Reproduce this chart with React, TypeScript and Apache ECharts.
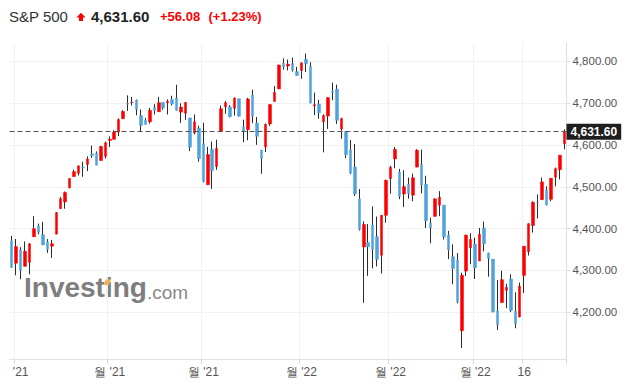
import React, { useEffect, useRef } from "react";
import * as echarts from "echarts";

// S&P 500 daily candles, 2021-09-30 .. 2022-03-29
const dates = [
  "2021-09-30",
  "2021-10-01", "2021-10-04", "2021-10-05", "2021-10-06", "2021-10-07", "2021-10-08", "2021-10-11", "2021-10-12", "2021-10-13", "2021-10-14", "2021-10-15", "2021-10-18", "2021-10-19", "2021-10-20", "2021-10-21", "2021-10-22", "2021-10-25", "2021-10-26", "2021-10-27", "2021-10-28", "2021-10-29",
  "2021-11-01", "2021-11-02", "2021-11-03", "2021-11-04", "2021-11-05", "2021-11-08", "2021-11-09", "2021-11-10", "2021-11-11", "2021-11-12", "2021-11-15", "2021-11-16", "2021-11-17", "2021-11-18", "2021-11-19", "2021-11-22", "2021-11-23", "2021-11-24", "2021-11-26", "2021-11-29", "2021-11-30",
  "2021-12-01", "2021-12-02", "2021-12-03", "2021-12-06", "2021-12-07", "2021-12-08", "2021-12-09", "2021-12-10", "2021-12-13", "2021-12-14", "2021-12-15", "2021-12-16", "2021-12-17", "2021-12-20", "2021-12-21", "2021-12-22", "2021-12-23", "2021-12-27", "2021-12-28", "2021-12-29", "2021-12-30", "2021-12-31",
  "2022-01-03", "2022-01-04", "2022-01-05", "2022-01-06", "2022-01-07", "2022-01-10", "2022-01-11", "2022-01-12", "2022-01-13", "2022-01-14", "2022-01-18", "2022-01-19", "2022-01-20", "2022-01-21", "2022-01-24", "2022-01-25", "2022-01-26", "2022-01-27", "2022-01-28", "2022-01-31",
  "2022-02-01", "2022-02-02", "2022-02-03", "2022-02-04", "2022-02-07", "2022-02-08", "2022-02-09", "2022-02-10", "2022-02-11", "2022-02-14", "2022-02-15", "2022-02-16", "2022-02-17", "2022-02-18", "2022-02-22", "2022-02-23", "2022-02-24", "2022-02-25", "2022-02-28",
  "2022-03-01", "2022-03-02", "2022-03-03", "2022-03-04", "2022-03-07", "2022-03-08", "2022-03-09", "2022-03-10", "2022-03-11", "2022-03-14", "2022-03-15", "2022-03-16", "2022-03-17", "2022-03-18", "2022-03-21", "2022-03-22", "2022-03-23", "2022-03-24", "2022-03-25", "2022-03-28", "2022-03-29",
];

const opens = [
  4370.67,
  4317.16, 4348.84, 4309.87, 4319.57, 4380.44, 4406.51, 4385.44, 4368.31, 4358.01, 4386.75, 4447.69, 4463.72, 4497.34, 4524.42, 4532.24, 4546.12, 4553.69, 4578.69, 4580.22, 4562.84, 4572.87,
  4610.62, 4613.34, 4630.65, 4662.93, 4699.26, 4701.48, 4707.25, 4670.26, 4659.39, 4655.24, 4689.3, 4679.42, 4701.5, 4700.72, 4708.44, 4712.0, 4678.48, 4675.78, 4664.63, 4628.75, 4640.25,
  4602.82, 4504.73, 4589.49, 4548.37, 4631.97, 4690.86, 4691.0, 4687.64, 4710.3, 4642.99, 4636.46, 4719.13, 4652.5, 4587.9, 4594.96, 4650.36, 4703.96, 4733.99, 4795.49, 4788.64, 4794.23, 4775.21,
  4778.14, 4804.51, 4787.99, 4693.39, 4697.66, 4655.34, 4669.14, 4728.59, 4733.56, 4637.99, 4632.24, 4588.03, 4547.35, 4471.38, 4356.32, 4366.64, 4408.43, 4380.58, 4336.19, 4431.79,
  4519.57, 4566.39, 4535.41, 4482.79, 4505.75, 4480.02, 4547.0, 4553.24, 4506.27, 4412.61, 4429.28, 4455.75, 4456.06, 4384.57, 4332.74, 4324.93, 4155.77, 4298.38, 4354.17,
  4363.14, 4322.56, 4401.31, 4342.12, 4327.01, 4202.66, 4223.1, 4252.55, 4279.5, 4202.75, 4188.82, 4288.14, 4345.11, 4407.34, 4462.4, 4469.1, 4493.1, 4469.98, 4522.91, 4541.09, 4602.86,
];

const closes = [
  4307.54,
  4357.04, 4300.46, 4345.72, 4363.55, 4399.76, 4391.34, 4361.19, 4350.65, 4363.8, 4438.26, 4471.37, 4486.46, 4519.63, 4536.19, 4549.78, 4544.9, 4566.48, 4574.79, 4551.68, 4596.42, 4605.38,
  4613.67, 4630.65, 4660.57, 4680.06, 4697.53, 4701.7, 4685.25, 4646.71, 4649.27, 4682.85, 4682.8, 4700.9, 4688.67, 4704.54, 4697.96, 4682.94, 4690.7, 4701.46, 4594.62, 4655.27, 4567.0,
  4513.04, 4577.1, 4538.43, 4591.67, 4686.75, 4701.21, 4667.45, 4712.02, 4668.97, 4634.09, 4709.85, 4668.67, 4620.64, 4568.02, 4649.23, 4696.56, 4725.79, 4791.19, 4786.35, 4793.06, 4778.73, 4766.18,
  4796.56, 4793.54, 4700.58, 4696.05, 4677.03, 4670.29, 4713.07, 4726.35, 4659.03, 4662.85, 4577.11, 4532.76, 4482.73, 4397.94, 4410.13, 4356.45, 4349.93, 4326.51, 4431.85, 4515.55,
  4546.54, 4589.38, 4477.44, 4500.53, 4483.87, 4521.54, 4587.18, 4504.08, 4418.64, 4401.67, 4471.07, 4475.01, 4380.26, 4348.87, 4304.76, 4225.5, 4288.7, 4384.65, 4373.94,
  4306.26, 4386.54, 4363.49, 4328.87, 4201.09, 4170.7, 4277.88, 4259.52, 4204.31, 4173.11, 4262.45, 4357.86, 4411.67, 4463.12, 4461.18, 4511.61, 4456.24, 4520.16, 4543.06, 4575.52, 4631.6,
];

const lows = [
  4306.24,
  4288.52, 4278.94, 4309.87, 4290.49, 4380.44, 4386.22, 4360.59, 4342.09, 4329.92, 4386.75, 4447.69, 4447.47, 4496.41, 4524.4, 4526.89, 4524.0, 4537.36, 4569.17, 4551.66, 4562.84, 4567.59,
  4595.06, 4613.34, 4621.19, 4662.59, 4681.32, 4694.39, 4670.87, 4630.86, 4648.31, 4650.77, 4672.86, 4679.42, 4684.41, 4672.78, 4694.22, 4682.17, 4652.66, 4659.89, 4585.43, 4625.26, 4560.0,
  4510.27, 4504.73, 4495.12, 4540.51, 4631.97, 4674.52, 4665.98, 4670.24, 4667.6, 4606.52, 4611.22, 4651.89, 4600.22, 4531.1, 4583.16, 4645.53, 4703.96, 4733.99, 4780.04, 4778.08, 4775.33, 4765.75,
  4758.17, 4774.27, 4699.44, 4671.26, 4662.74, 4582.24, 4638.27, 4706.71, 4650.29, 4614.75, 4568.7, 4530.2, 4477.95, 4395.34, 4222.62, 4287.11, 4304.8, 4309.5, 4292.46, 4414.02,
  4483.53, 4544.32, 4470.39, 4451.5, 4471.47, 4465.4, 4547.0, 4484.31, 4401.41, 4364.84, 4429.28, 4429.68, 4373.81, 4327.22, 4267.11, 4221.51, 4114.65, 4286.83, 4315.12,
  4279.54, 4322.56, 4345.56, 4284.98, 4199.85, 4157.87, 4223.1, 4209.8, 4200.49, 4161.72, 4187.9, 4246.24, 4335.65, 4390.57, 4424.3, 4469.1, 4455.81, 4465.17, 4501.07, 4517.69, 4589.66,
];

const highs = [
  4382.55,
  4375.19, 4355.51, 4369.23, 4365.57, 4429.97, 4412.02, 4415.88, 4374.89, 4372.87, 4439.73, 4475.82, 4488.75, 4520.4, 4540.87, 4551.44, 4559.67, 4572.62, 4598.53, 4584.57, 4597.55, 4608.08,
  4620.34, 4635.15, 4663.46, 4683.0, 4718.5, 4714.92, 4708.53, 4684.85, 4664.55, 4688.47, 4697.42, 4714.95, 4701.5, 4708.8, 4717.75, 4743.83, 4699.39, 4702.87, 4664.63, 4672.95, 4646.02,
  4652.94, 4595.46, 4608.03, 4612.6, 4694.04, 4705.06, 4695.26, 4713.57, 4710.3, 4660.47, 4712.6, 4731.99, 4666.7, 4587.9, 4651.14, 4697.67, 4740.74, 4791.49, 4807.02, 4804.06, 4808.93, 4786.83,
  4796.64, 4818.62, 4797.7, 4725.01, 4707.95, 4673.02, 4714.13, 4748.83, 4744.13, 4665.13, 4632.24, 4611.55, 4602.11, 4494.52, 4417.35, 4411.01, 4453.23, 4428.74, 4432.72, 4516.89,
  4550.49, 4595.31, 4542.88, 4539.66, 4521.86, 4531.32, 4590.03, 4588.92, 4526.33, 4426.22, 4472.77, 4489.55, 4456.06, 4394.6, 4362.12, 4341.51, 4294.73, 4385.34, 4388.84,
  4378.45, 4401.48, 4416.78, 4342.12, 4327.01, 4276.94, 4299.4, 4268.28, 4291.01, 4247.57, 4271.05, 4357.86, 4412.67, 4465.4, 4481.75, 4522.0, 4501.07, 4520.58, 4546.03, 4575.65, 4637.3,
];

const xTickDates = ["2021-10-01", "2021-11-01", "2021-12-01", "2022-01-03", "2022-02-01", "2022-03-01", "2022-03-16"];
const xTickLabels = ["'21", "월 '21", "월 '21", "월 '22", "월 '22", "월 '22", "16"];
const yTicks = [4200, 4300, 4400, 4500, 4600, 4700, 4800];
const title = "S&P 500";
const watermark = ["Investing", ".com"];

const FONT = "'Liberation Sans', Arial, Helvetica, sans-serif";
const RED = "#fb0000";
const BLUE = "#4fa2dc";
const WICK = "#2b2b2b";

const fmt = (v: number) =>
  v.toLocaleString("en-US", { minimumFractionDigits: 2, maximumFractionDigits: 2 });

export default function App() {
  const ref = useRef<HTMLDivElement>(null);

  useEffect(() => {
    if (!ref.current) return;
    const chart = echarts.init(ref.current, null, { renderer: "svg" });

    const n = closes.length;
    const last = closes[n - 1];
    const prev = closes[n - 2];
    const chg = last - prev;
    const pct = (chg / prev) * 100;

    const wickData = dates.map((_, i) => [opens[i], closes[i], lows[i], highs[i]]);
    const bodyData = dates.map((_, i) => [
      opens[i],
      closes[i],
      Math.min(opens[i], closes[i]),
      Math.max(opens[i], closes[i]),
    ]);

    const labelMap = new Map<number, string>();
    xTickDates.forEach((d, k) => labelMap.set(dates.indexOf(d), xTickLabels[k]));
    const firstIdx = dates.indexOf(xTickDates[0]);
    const isTick = (i: number) => labelMap.has(i);

    chart.setOption({
      animation: false,
      backgroundColor: "#ffffff",
      grid: { left: 9.5, right: 64.5, top: 43, bottom: 26 },
      xAxis: {
        type: "category",
        data: dates,
        boundaryGap: true,
        axisLine: { show: true, lineStyle: { color: "#e2e2e2", width: 1 } },
        axisTick: {
          show: true,
          interval: (i: number) => isTick(i),
          length: 5,
          lineStyle: { color: "#d9d9d9" },
        },
        axisLabel: {
          interval: (i: number) => isTick(i),
          formatter: (_v: string, i: number) =>
            i === firstIdx ? `{first|${labelMap.get(i)}}` : labelMap.get(i) ?? "",
          color: "#555555",
          fontSize: 12,
          fontFamily: FONT,
          margin: 7,
          rich: {
            first: { padding: [0, 0, 0, 9], color: "#555555", fontSize: 12, fontFamily: FONT },
          },
        },
        splitLine: {
          show: true,
          interval: (i: number) => isTick(i),
          lineStyle: { color: "#f1f1f1" },
        },
      },
      yAxis: {
        type: "value",
        position: "right",
        min: 4088.3,
        max: 4843.7,
        axisLine: { show: true, lineStyle: { color: "#dcdce6" } },
        axisTick: { show: true, length: 4, customValues: yTicks, lineStyle: { color: "#dcdce6" } },
        axisLabel: {
          customValues: yTicks,
          formatter: (v: number) => fmt(v),
          color: "#555555",
          fontSize: 11.5,
          fontFamily: FONT,
          margin: 6,
        },
        splitLine: { show: true, lineStyle: { color: "#f1f1f1" } },
      },
      series: [
        {
          type: "candlestick",
          data: wickData,
          barWidth: 1,
          silent: true,
          z: 2,
          itemStyle: {
            color: WICK,
            color0: WICK,
            borderColor: WICK,
            borderColor0: WICK,
            borderWidth: 1,
          },
        },
        {
          type: "candlestick",
          data: bodyData,
          barWidth: 3,
          z: 3,
          itemStyle: {
            color: RED,
            color0: BLUE,
            borderColor: RED,
            borderColor0: BLUE,
            borderWidth: 0.5,
          },
          markLine: {
            silent: true,
            symbol: ["none", "none"],
            data: [{ yAxis: last }],
            lineStyle: { color: "#555555", type: [5, 3], width: 1.2 },
            label: {
              show: true,
              position: "end",
              distance: 0,
              formatter: fmt(last),
              backgroundColor: "#1e1e1e",
              color: "#ffffff",
              fontWeight: "bold",
              fontSize: 12,
              fontFamily: FONT,
              padding: [2, 4, 2, 4],
            },
          },
        },
      ],
      graphic: [
        {
          type: "text",
          x: 9,
          y: 16,
          style: { text: title, font: `15px ${FONT}`, fill: "#333333", verticalAlign: "middle" },
        },
        {
          type: "polygon",
          shape: {
            points: [
              [76.5, 17.6],
              [81, 12.8],
              [85.5, 17.6],
              [83, 17.6],
              [83, 21],
              [79, 21],
              [79, 17.6],
            ],
          },
          style: { fill: RED },
        },
        {
          type: "text",
          x: 91,
          y: 16,
          style: { text: fmt(last), font: `bold 15px ${FONT}`, fill: "#222222", verticalAlign: "middle" },
        },
        {
          type: "text",
          x: 160,
          y: 16.5,
          style: {
            text: `${chg >= 0 ? "+" : ""}${fmt(chg)}`,
            font: `bold 13px ${FONT}`,
            fill: RED,
            verticalAlign: "middle",
          },
        },
        {
          type: "text",
          x: 208.5,
          y: 16.5,
          style: {
            text: `(${pct >= 0 ? "+" : ""}${pct.toFixed(2)}%)`,
            font: `bold 13px ${FONT}`,
            fill: RED,
            verticalAlign: "middle",
          },
        },
        {
          type: "text",
          x: 24,
          y: 301.5,
          z: 0,
          style: {
            text: `{a|${watermark[0]}}{b|${watermark[1]}}`,
            verticalAlign: "bottom",
            rich: {
              a: { font: `bold 28px ${FONT}`, fill: "#7e7e7e", verticalAlign: "bottom" },
              b: { font: `19px ${FONT}`, fill: "#8a8a8a", verticalAlign: "bottom" },
            },
          },
        },
        {
          type: "polygon",
          z: 1,
          shape: {
            points: [
              [105.8, 279.6],
              [111.0, 279.6],
              [109.0, 285],
              [103.8, 285],
            ],
          },
          style: { fill: "#f6b24a" },
        },
      ],
    });

    return () => chart.dispose();
  }, []);

  return (
    <div
      ref={ref}
      style={{ position: "fixed", left: 0, top: 0, width: 631, height: 385, background: "#fff" }}
    />
  );
}
